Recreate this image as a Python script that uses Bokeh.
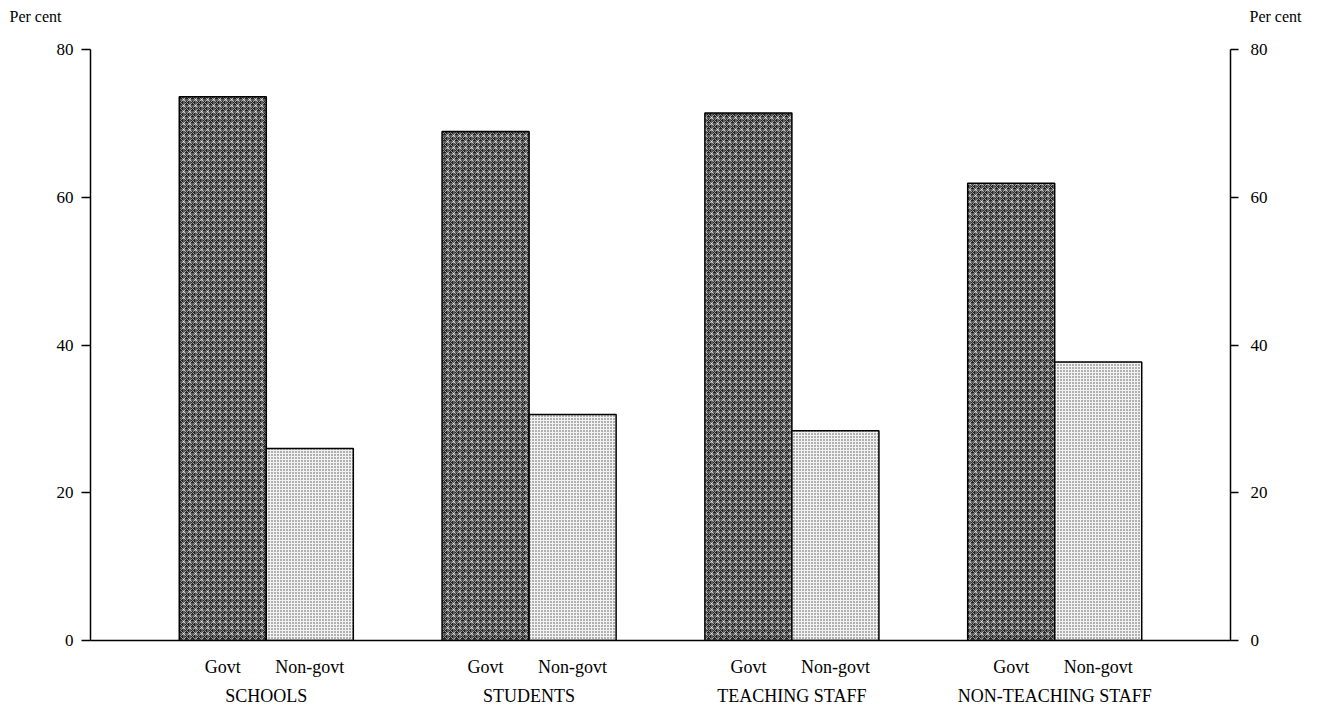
from bokeh.plotting import figure
from bokeh.models import (FactorRange, CategoricalAxis, LinearAxis, Range1d,
                          FixedTicker, Label, ColumnDataSource)
from bokeh.embed import file_html
from bokeh.resources import INLINE

groups = ["SCHOOLS", "STUDENTS", "TEACHING STAFF", "NON-TEACHING STAFF"]
subgroups = ["Govt", "Non-govt"]
govt = [73.6, 68.9, 71.4, 61.9]
nongovt = [26.0, 30.6, 28.4, 37.7]
y_ticks = [0, 20, 40, 60, 80]
unit_label = "Per cent"

FONT = "Liberation Serif"

gp = 1.02
rp1 = 1.02
L1 = 2 * len(groups) + (len(groups) - 1) * gp + 2 * rp1
L2 = L1 / (2 + gp)
rp2 = (L2 - len(groups)) / 2

x_range = FactorRange(*[(g, s) for g in groups for s in subgroups],
                      group_padding=gp, range_padding=rp1,
                      range_padding_units="absolute")

p = figure(width=1313, height=708, x_range=x_range, y_range=Range1d(0, 80),
           output_backend="svg", toolbar_location=None,
           x_axis_location=None, y_axis_location=None,
           min_border_left=90, min_border_right=83,
           min_border_top=49, min_border_bottom=67)
p.outline_line_color = None
p.grid.visible = False
p.background_fill_color = "white"

p.extra_x_ranges = {"grp": FactorRange(*groups, range_padding=rp2,
                                       range_padding_units="absolute")}

src_g = ColumnDataSource(dict(x=[(g, "Govt") for g in groups], top=govt))
src_n = ColumnDataSource(dict(x=[(g, "Non-govt") for g in groups], top=nongovt))

p.vbar(x="x", top="top", width=1.0, source=src_g,
       fill_color="#222222", line_color="black", line_width=1.5,
       hatch_pattern="criss_cross", hatch_color="#ffffff",
       hatch_scale=6, hatch_weight=1, hatch_alpha=0.55)
p.vbar(x="x", top="top", width=1.0, source=src_n,
       fill_color="#f2f2f2", line_color="black", line_width=1.5,
       hatch_pattern="dot", hatch_color="#3a3a3a",
       hatch_scale=3, hatch_weight=1, hatch_alpha=0.9)

def style_y(ax, standoff, tick):
    ax.ticker = FixedTicker(ticks=y_ticks)
    ax.minor_tick_line_color = None
    ax.major_tick_out = tick
    ax.major_tick_in = 0
    ax.major_label_standoff = standoff
    ax.major_label_text_font = FONT
    ax.major_label_text_font_size = "17px"
    ax.major_label_text_color = "black"
    ax.axis_line_color = "black"
    ax.axis_line_width = 1.5
    ax.major_tick_line_color = "black"
    ax.major_tick_line_width = 1.5

yl = LinearAxis()
style_y(yl, 8, 9)
p.add_layout(yl, "left")
yr = LinearAxis()
style_y(yr, 12, 8)
p.add_layout(yr, "right")

xa = CategoricalAxis()
xa.axis_line_color = "black"
xa.axis_line_width = 1.5
xa.major_tick_line_color = None
xa.minor_tick_line_color = None
xa.major_label_standoff = 10
xa.major_label_text_font = FONT
xa.major_label_text_font_size = "18px"
xa.major_label_text_color = "black"
xa.group_text_font_size = "0px"
xa.group_text_color = None
xa.separator_line_color = None
p.add_layout(xa, "below")

xg = CategoricalAxis(x_range_name="grp")
xg.axis_line_color = None
xg.major_tick_line_color = None
xg.minor_tick_line_color = None
xg.major_label_standoff = 0
xg.major_label_text_font = FONT
xg.major_label_text_font_size = "18px"
xg.major_label_text_color = "black"
p.add_layout(xg, "below")

for xx, yy in ((-81, 25), (1159, 8)):
    p.add_layout(Label(x=xx, y=yy, x_units="screen", y_units="screen",
                       text=unit_label, text_font=FONT, text_font_size="16px",
                       text_baseline="bottom", text_color="black"), "above")

open("out.html", "w").write(file_html(p, INLINE))
